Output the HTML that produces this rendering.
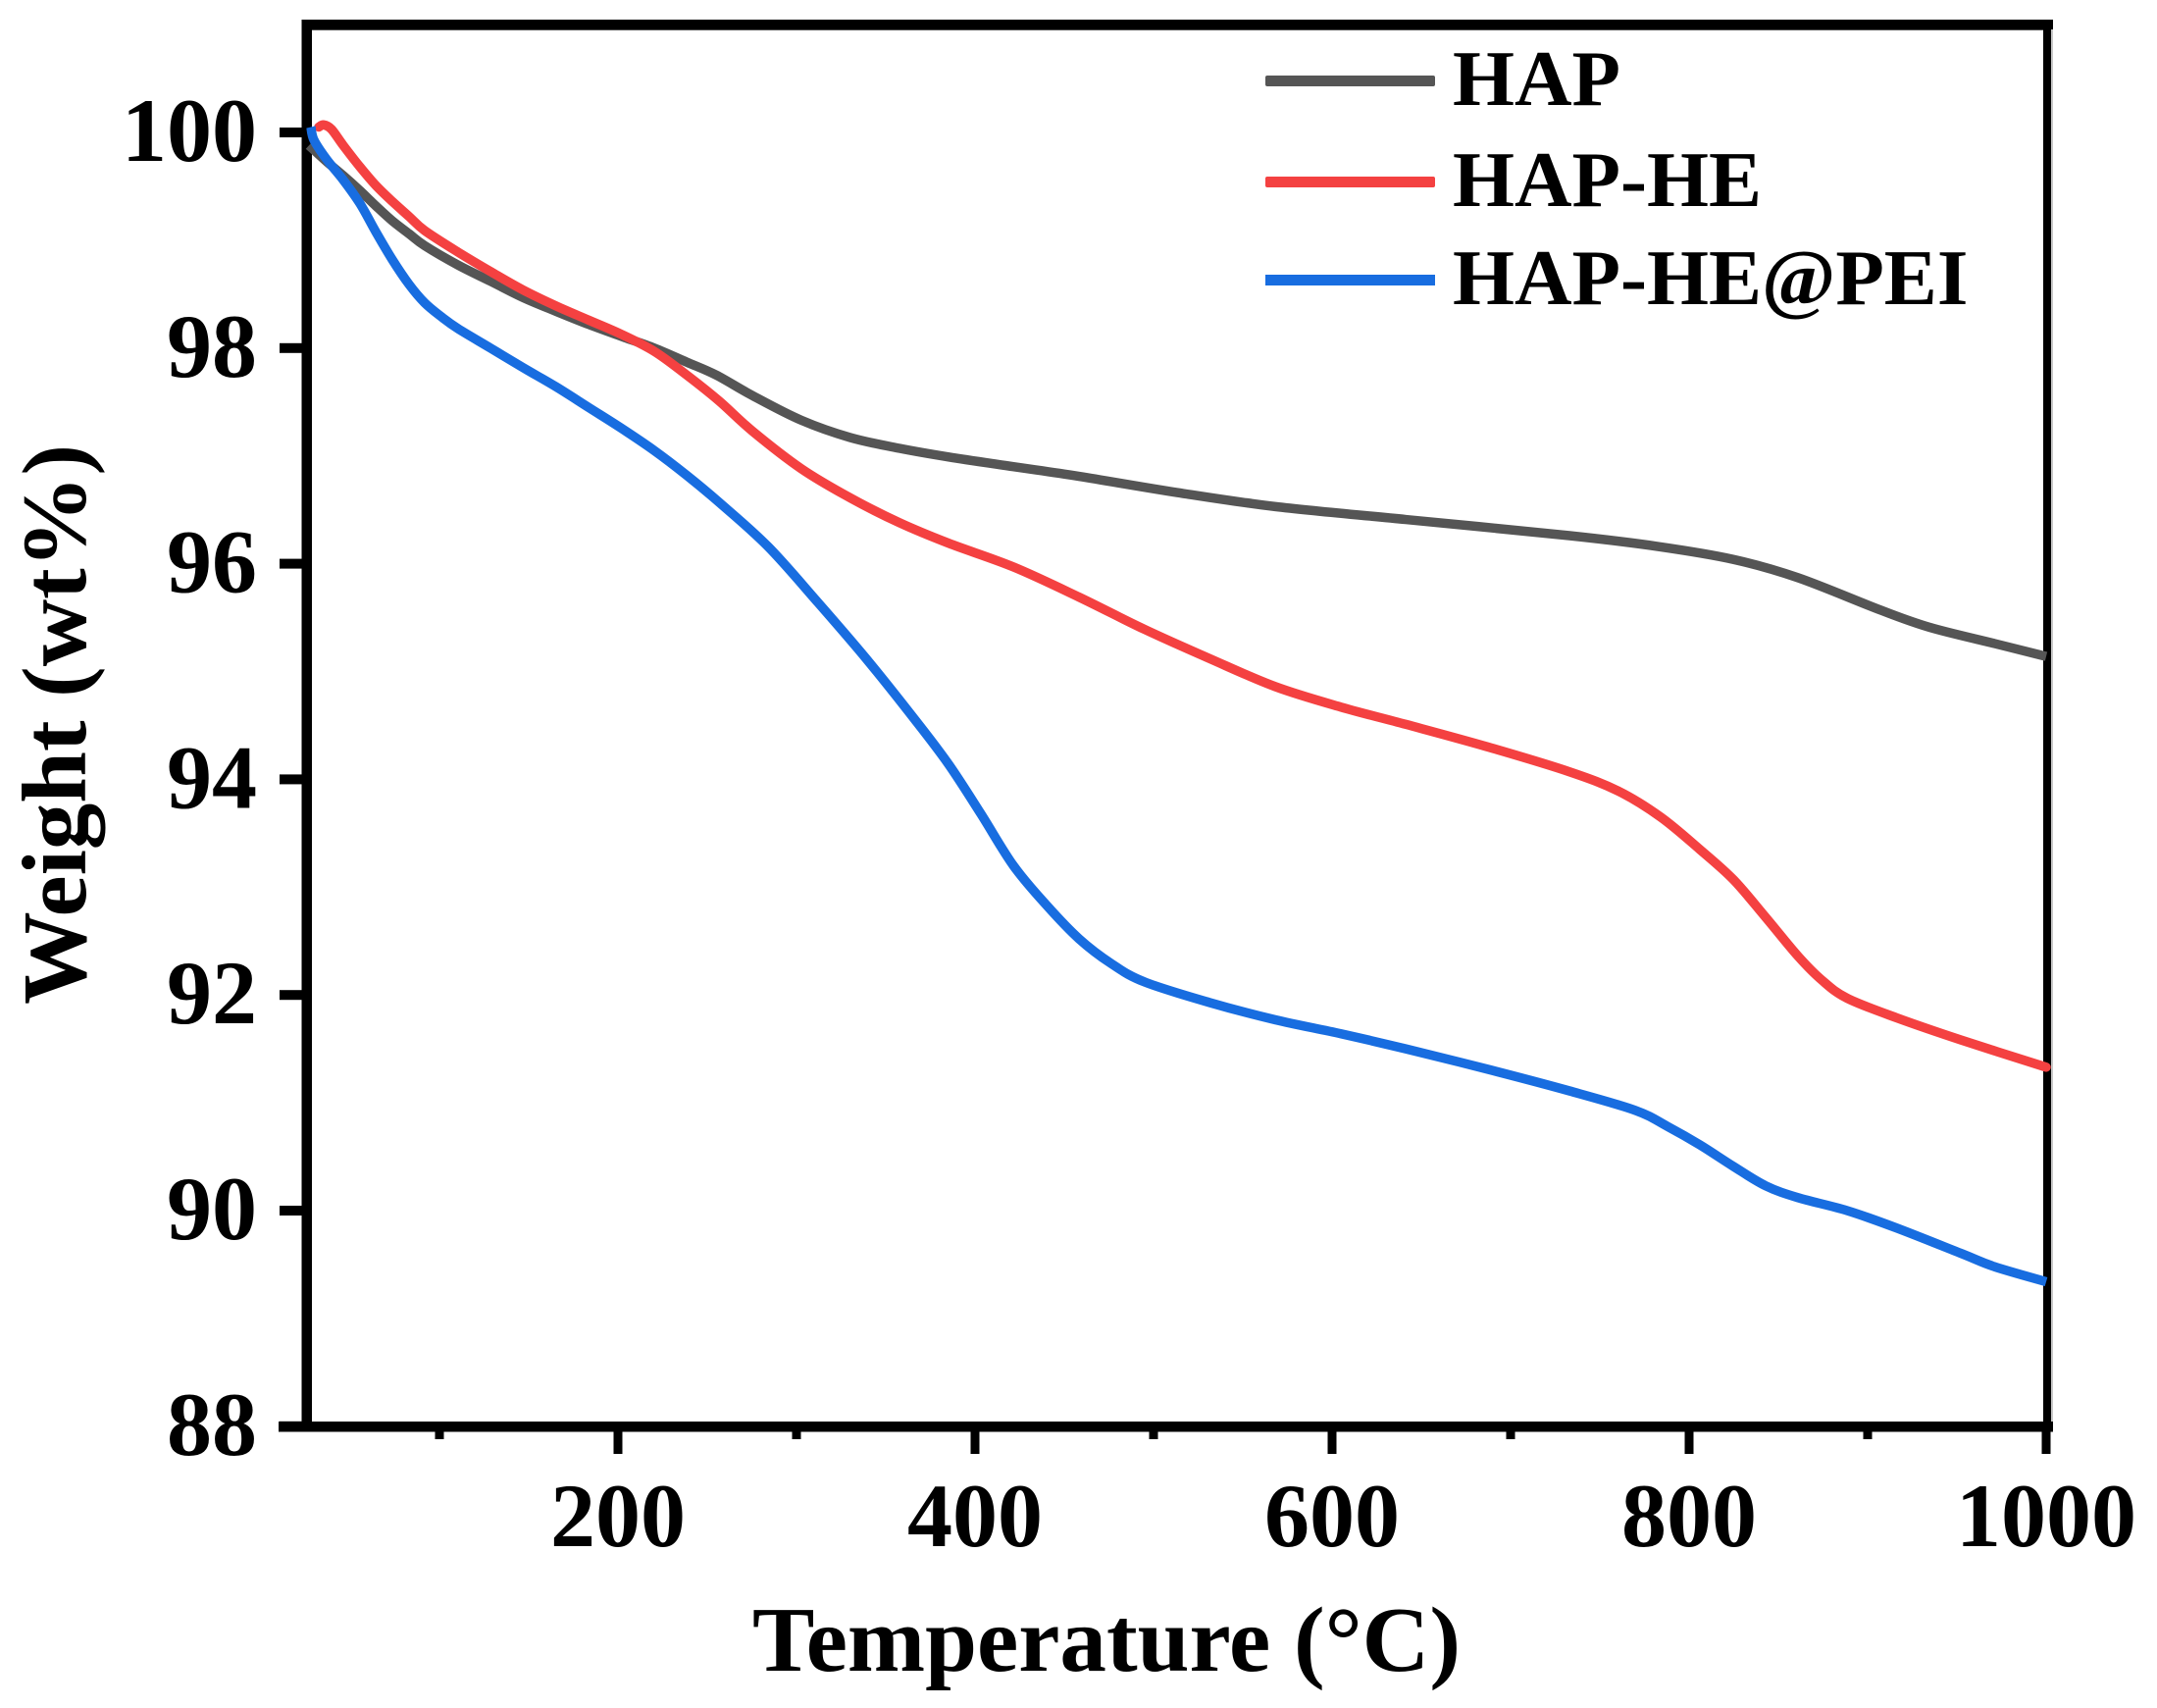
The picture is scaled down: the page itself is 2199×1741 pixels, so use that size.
<!DOCTYPE html>
<html lang="en">
<head>
<meta charset="utf-8">
<title>TGA weight versus temperature</title>
<style>
html,body{margin:0;padding:0;background:#fff;}
svg{display:block;}
text{font-family:"Liberation Serif",serif;font-weight:bold;fill:#000;}
</style>
</head>
<body>
<svg id="chart" xmlns="http://www.w3.org/2000/svg" width="2199" height="1741" viewBox="0 0 2199 1741">
  <rect x="0" y="0" width="2199" height="1741" fill="#ffffff"/>
  <g id="axes"></g>
  <g id="series"></g>
  <text x="1128" y="1703" font-size="94" text-anchor="middle" textLength="722" lengthAdjust="spacingAndGlyphs">Temperature (°C)</text>
  <text transform="translate(87,1024) rotate(-90)" x="0" y="0" font-size="93" textLength="571" lengthAdjust="spacingAndGlyphs">Weight (wt%)</text>
  <g>
    <g>
      <rect x="1290" y="77" width="173" height="11" rx="2" fill="#555555"/>
      <text x="1481" y="107" font-size="81">HAP</text>
    </g>
    <g>
      <rect x="1290" y="180" width="173" height="11" rx="2" fill="#f44141"/>
      <text x="1481" y="210" font-size="81">HAP-HE</text>
    </g>
    <g>
      <rect x="1290" y="280" width="173" height="11" fill="#186de0"/>
      <text x="1481" y="310" font-size="81">HAP-HE@PEI</text>
    </g>
  </g>
</svg>
<script>
var xMajorTicks = [200, 400, 600, 800, 1000];
var xMinorTicks = [100, 300, 500, 700, 900];
var yTicks = [100, 98, 96, 94, 92, 90, 88];

var hapTemps = [26.9,36.8,46.1,55.5,64.3,73.6,83,91.7,110.4,128.6,146.7,165.4,183.5,201.6,220.3,238.5,255,275.3,302.8,330.2,357.7,385.2,421.5,458.3,513.2,568.2,641.3,733,782.5,824.8,861,907.2,934.7,971,1000];
var hapWeights = [99.88,99.73,99.60,99.46,99.32,99.18,99.06,98.95,98.77,98.62,98.47,98.34,98.22,98.11,98.0,97.87,97.75,97.56,97.33,97.17,97.07,96.99,96.90,96.81,96.66,96.53,96.41,96.26,96.16,96.04,95.87,95.57,95.41,95.26,95.14];

var hapHeTemps = [32.4,35.2,39.5,46.1,55.5,64.3,73.6,83,91.7,110.4,128.6,146.7,165.4,183.5,201.6,220.3,238.5,256.6,275.3,302.8,330.2,357.7,385.2,421.5,458.3,495.1,531.4,568.2,605,641.3,687.4,733,760.5,784.1,806,824.8,842.9,861,874.2,888.5,916,952.8,1000];
var hapHeWeights = [100.05,100.07,100.03,99.88,99.68,99.51,99.36,99.22,99.09,98.89,98.71,98.54,98.39,98.26,98.13,97.97,97.75,97.51,97.23,96.88,96.61,96.38,96.19,95.97,95.69,95.39,95.12,94.86,94.67,94.51,94.30,94.07,93.89,93.65,93.35,93.07,92.72,92.36,92.14,91.97,91.79,91.58,91.33];

var hapHePeiTemps = [28,29.7,36.8,46.1,55.5,64.3,73.6,83,91.7,101.1,110.4,128.6,146.7,165.4,183.5,201.6,220.3,238.5,256.6,284,311.5,339,366.5,385.2,403.3,421.5,440.2,458.3,476.4,495.1,531.4,568.2,605,641.3,687.4,733,769.8,788,806,824.8,842.9,861,888.5,916,952.8,971,1000];
var hapHePeiWeights = [100.05,99.93,99.75,99.56,99.34,99.08,98.82,98.59,98.42,98.29,98.18,98.0,97.82,97.64,97.45,97.26,97.05,96.82,96.57,96.16,95.65,95.12,94.55,94.14,93.68,93.20,92.83,92.52,92.29,92.12,91.93,91.77,91.64,91.50,91.31,91.11,90.93,90.78,90.61,90.41,90.23,90.12,90.0,89.84,89.60,89.48,89.34];

var SVGNS = 'http://www.w3.org/2000/svg';
function xScale(t) { return 630 + (t - 200) * 1.82; }
function yScale(v) { return 135 + (100 - v) * 109.9; }

var axes = document.getElementById('axes');
var seriesGroup = document.getElementById('series');

function makeRect(x, y, w, h, fill) {
  var r = document.createElementNS(SVGNS, 'rect');
  r.setAttribute('x', x);
  r.setAttribute('y', y);
  r.setAttribute('width', w);
  r.setAttribute('height', h);
  r.setAttribute('fill', fill);
  axes.appendChild(r);
  return r;
}

function makeLabel(x, y, anchor, str) {
  var t = document.createElementNS(SVGNS, 'text');
  t.setAttribute('x', x);
  t.setAttribute('y', y);
  t.setAttribute('font-size', '92');
  t.setAttribute('text-anchor', anchor);
  t.textContent = str;
  axes.appendChild(t);
  return t;
}

var topAxis = makeRect(307.5, 20, 1785.5, 10.7, '#000');



var leftAxis = makeRect(307.5, 20, 10.5, 1439.5, '#000');



var rightEdge = makeRect(2091, 30, 2, 1419, '#c8c8c8');



var rightAxis = makeRect(2083, 20, 8, 1439.5, '#000');



var bottomAxis = makeRect(284, 1449, 1809, 10.5, '#000');



yTicks.forEach(function (v) {
  var py = yScale(v);
  var tick = makeRect(285, py - 5, 24, 10, '#000');
  
  
  var label = makeLabel(262, py + 29, 'end', String(v));
  
  
});

xMajorTicks.forEach(function (t) {
  var px = xScale(t);
  var tick = makeRect(px - 4.5, 1455, 9, 27, '#000');
  
  
  var label = makeLabel(px, 1576, 'middle', String(t));
  
  
});

xMinorTicks.forEach(function (t) {
  var px = xScale(t);
  var tick = makeRect(px - 4.5, 1455, 9, 12, '#000');
  
  
});

function smoothPath(xs, ys) {
  var pts = xs.map(function (t, i) { return [xScale(t), yScale(ys[i])]; });
  var d = 'M' + pts[0][0].toFixed(2) + ' ' + pts[0][1].toFixed(2);
  for (var i = 0; i < pts.length - 1; i++) {
    var p0 = pts[Math.max(i - 1, 0)];
    var p1 = pts[i];
    var p2 = pts[i + 1];
    var p3 = pts[Math.min(i + 2, pts.length - 1)];
    var c1x = p1[0] + (p2[0] - p0[0]) / 6;
    var c1y = p1[1] + (p2[1] - p0[1]) / 6;
    var c2x = p2[0] - (p3[0] - p1[0]) / 6;
    var c2y = p2[1] - (p3[1] - p1[1]) / 6;
    d += 'C' + c1x.toFixed(2) + ' ' + c1y.toFixed(2) + ' ' + c2x.toFixed(2) + ' ' + c2y.toFixed(2) + ' ' + p2[0].toFixed(2) + ' ' + p2[1].toFixed(2);
  }
  return d;
}

function drawSeries(xs, ys, color) {
  var path = document.createElementNS(SVGNS, 'path');
  path.setAttribute('d', smoothPath(xs, ys));
  path.setAttribute('fill', 'none');
  path.setAttribute('stroke', color);
  path.setAttribute('stroke-width', '9.5');
  path.setAttribute('stroke-linejoin', 'round');
  seriesGroup.appendChild(path);
  return path;
}

var hapLine = drawSeries(hapTemps, hapWeights, '#555555');



var hapHeLine = drawSeries(hapHeTemps, hapHeWeights, '#f44141');


hapHeLine.setAttribute('stroke-linecap', 'round');

var hapHePeiLine = drawSeries(hapHePeiTemps, hapHePeiWeights, '#186de0');


</script>
</body>
</html>
